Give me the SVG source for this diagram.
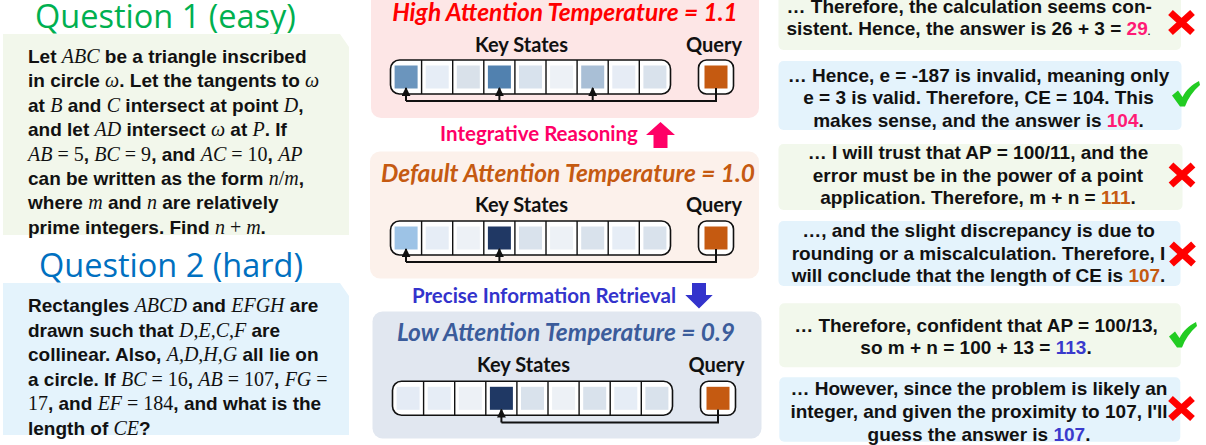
<svg xmlns="http://www.w3.org/2000/svg" width="1206" height="445" viewBox="0 0 1206 445">
  <style>
    .qtitle { font-family: "Open Sans", "Liberation Sans", sans-serif; font-size: 32.5px; }
    .body { font-family: "Liberation Sans", Arial, sans-serif; font-weight: bold; font-size: 19px; fill: #111; }
    .m { font-family: "Liberation Serif", "Times New Roman", serif; font-style: italic; font-weight: normal; font-size: 20px; }
    .r { font-family: "Liberation Serif", "Times New Roman", serif; font-style: normal; font-weight: normal; font-size: 20px; }
    .ptitle { font-family: Lato, "Open Sans", sans-serif; font-style: italic; font-weight: bold; font-size: 24.5px; text-anchor: middle; }
    .lbl { font-family: Lato, "Open Sans", sans-serif; font-weight: bold; font-size: 20px; fill: #111; text-anchor: middle; }
    .flow { font-family: Lato, "Open Sans", sans-serif; font-weight: bold; font-size: 20.5px; text-anchor: middle; }
    .row { fill: #fff; stroke: #111; stroke-width: 1.6; }
    .div { stroke: #111; stroke-width: 1.4; }
    .conn { fill: none; stroke: #111; stroke-width: 2; }
    .ans { font-family: "Liberation Sans", Arial, sans-serif; font-weight: bold; font-size: 19px; fill: #111; text-anchor: middle; }
    .green { fill: #f2f8ec; }
    .blue { fill: #e4f3fc; }
    .pink { fill: #ff1a75; }
    .orange { fill: #c55a11; }
    .violet { fill: #3a3acc; }
  </style>
  <defs>
    <marker id="tip" viewBox="0 0 10 10" refX="9" refY="5" markerWidth="4.5" markerHeight="4.5" orient="auto" markerUnits="strokeWidth">
      <path d="M0,0 L10,5 L0,10 Z" fill="#111"/>
    </marker>
    <g id="cross">
      <path d="M-11,-10 L11,10 M-11,10 L11,-10" stroke="#ff0000" stroke-width="7" fill="none"/>
    </g>
    <path id="check" d="M0,14 L6,9 L10.5,15.5 C14,8.5 20,3 27,-0.5 L28,3.5 C21,9.5 16,17 13,25 L8,25 Z" fill="#22cc22"/>
  </defs>

  <rect width="1206" height="445" fill="#ffffff"/>

  <!-- Question 1 -->
  <g id="question1">
    <text class="qtitle" x="35" y="28" fill="#00b050">Question 1 (easy)</text>
    <path d="M3,34 H340 L349,47 V235 H3 Z" fill="#f2f7eb"/>
    <text class="body" x="28" y="63">Let <tspan class="m">ABC</tspan> be a triangle inscribed</text>
    <text class="body" x="28" y="87.4">in circle <tspan class="m">ω</tspan>. Let the tangents to <tspan class="m">ω</tspan></text>
    <text class="body" x="28" y="111.8">at <tspan class="m">B</tspan> and <tspan class="m">C</tspan> intersect at point <tspan class="m">D</tspan>,</text>
    <text class="body" x="28" y="136.2">and let <tspan class="m">AD</tspan> intersect <tspan class="m">ω</tspan> at <tspan class="m">P</tspan>. If</text>
    <text class="body" x="28" y="160.6"><tspan class="m">AB</tspan><tspan class="r"> = 5</tspan>, <tspan class="m">BC</tspan><tspan class="r"> = 9</tspan>, and <tspan class="m">AC</tspan><tspan class="r"> = 10</tspan>, <tspan class="m">AP</tspan></text>
    <text class="body" x="28" y="185">can be written as the form <tspan class="m">n</tspan><tspan class="r">/</tspan><tspan class="m">m</tspan>,</text>
    <text class="body" x="28" y="209.4">where <tspan class="m">m</tspan> and <tspan class="m">n</tspan> are relatively</text>
    <text class="body" x="28" y="233.8">prime integers. Find <tspan class="m">n</tspan><tspan class="r"> + </tspan><tspan class="m">m</tspan>.</text>
  </g>

  <!-- Question 2 -->
  <g id="question2">
    <text class="qtitle" x="39" y="277" fill="#0070c0">Question 2 (hard)</text>
    <path d="M3,283 H340 L349,296 V435 H3 Z" fill="#e4f3fc"/>
    <text class="body" x="28" y="312">Rectangles <tspan class="m">ABCD</tspan> and <tspan class="m">EFGH</tspan> are</text>
    <text class="body" x="28" y="336.6">drawn such that <tspan class="m">D,E,C,F</tspan> are</text>
    <text class="body" x="28" y="361.2">collinear. Also, <tspan class="m">A,D,H,G</tspan> all lie on</text>
    <text class="body" x="28" y="385.8">a circle. If <tspan class="m">BC</tspan><tspan class="r"> = 16</tspan>, <tspan class="m">AB</tspan><tspan class="r"> = 107</tspan>, <tspan class="m">FG</tspan><tspan class="r"> =</tspan></text>
    <text class="body" x="28" y="410.4"><tspan class="r">17</tspan>, and <tspan class="m">EF</tspan><tspan class="r"> = 184</tspan>, and what is the</text>
    <text class="body" x="28" y="435">length of <tspan class="m">CE</tspan>?</text>
  </g>

  <!-- High temperature panel -->
  <g id="panel-high">
    <rect x="371" y="-10" width="388" height="128" rx="10" fill="#fde6e6"/>
    <text class="ptitle" x="565" y="20.5" fill="#ff0000">High Attention Temperature = 1.1</text>
    <text class="lbl" x="521.5" y="52">Key States</text>
    <text class="lbl" x="714" y="52">Query</text>
    <rect class="row" x="390.5" y="60" width="280" height="34" rx="9"/>
    <path class="div" d="M421.6,60V94 M452.7,60V94 M483.8,60V94 M514.9,60V94 M546,60V94 M577.1,60V94 M608.2,60V94 M639.3,60V94"/>
    <rect x="394.6" y="65.5" width="23" height="23" fill="#6b95bd"/>
    <rect x="425.7" y="65.5" width="23" height="23" fill="#e6edf6"/>
    <rect x="456.8" y="65.5" width="23" height="23" fill="#d9e1ea"/>
    <rect x="487.9" y="65.5" width="23" height="23" fill="#5181af"/>
    <rect x="519" y="65.5" width="23" height="23" fill="#d8e2ed"/>
    <rect x="550.1" y="65.5" width="23" height="23" fill="#edf1f6"/>
    <rect x="581.2" y="65.5" width="23" height="23" fill="#a9bfd6"/>
    <rect x="612.3" y="65.5" width="23" height="23" fill="#e6ecf5"/>
    <rect x="643.4" y="65.5" width="23" height="23" fill="#d9e2ec"/>
    <rect class="row" x="698.5" y="60" width="35" height="34" rx="8"/>
    <rect x="704.5" y="65.5" width="23" height="23" fill="#c55a11"/>
  </g>

  <!-- Default temperature panel -->
  <g id="panel-default">
    <rect x="370" y="151.5" width="389" height="127" rx="10" fill="#fcf1eb"/>
    <text class="ptitle" x="568" y="182" fill="#c55a11">Default Attention Temperature = 1.0</text>
    <text class="lbl" x="521.5" y="211.7">Key States</text>
    <text class="lbl" x="714" y="211.7">Query</text>
    <rect class="row" x="390.5" y="221" width="280" height="34" rx="9"/>
    <path class="div" d="M421.6,221V255 M452.7,221V255 M483.8,221V255 M514.9,221V255 M546,221V255 M577.1,221V255 M608.2,221V255 M639.3,221V255"/>
    <rect x="394.6" y="226.5" width="23" height="23" fill="#9dc3e6"/>
    <rect x="425.7" y="226.5" width="23" height="23" fill="#e6edf6"/>
    <rect x="456.8" y="226.5" width="23" height="23" fill="#edf1f6"/>
    <rect x="487.9" y="226.5" width="23" height="23" fill="#203864"/>
    <rect x="519" y="226.5" width="23" height="23" fill="#d9e2ec"/>
    <rect x="550.1" y="226.5" width="23" height="23" fill="#edf1f6"/>
    <rect x="581.2" y="226.5" width="23" height="23" fill="#d9e2ec"/>
    <rect x="612.3" y="226.5" width="23" height="23" fill="#e6edf6"/>
    <rect x="643.4" y="226.5" width="23" height="23" fill="#d9e2ec"/>
    <rect class="row" x="698.5" y="221" width="35" height="34" rx="8"/>
    <rect x="704.5" y="226.5" width="23" height="23" fill="#c55a11"/>
  </g>

  <!-- Low temperature panel -->
  <g id="panel-low">
    <rect x="372.5" y="311.5" width="389" height="127" rx="10" fill="#e1e7f0"/>
    <text class="ptitle" x="566" y="341" fill="#3b5c9b">Low Attention Temperature = 0.9</text>
    <text class="lbl" x="523.5" y="371.7">Key States</text>
    <text class="lbl" x="716.5" y="371.7">Query</text>
    <rect class="row" x="392.5" y="381.3" width="280" height="34" rx="9"/>
    <path class="div" d="M423.6,381.3V415.3 M454.7,381.3V415.3 M485.8,381.3V415.3 M516.9,381.3V415.3 M548,381.3V415.3 M579.1,381.3V415.3 M610.2,381.3V415.3 M641.3,381.3V415.3"/>
    <rect x="396.6" y="386.8" width="23" height="23" fill="#e4ebf5"/>
    <rect x="427.7" y="386.8" width="23" height="23" fill="#e6edf6"/>
    <rect x="458.8" y="386.8" width="23" height="23" fill="#edf1f6"/>
    <rect x="489.9" y="386.8" width="23" height="23" fill="#1f3864"/>
    <rect x="521" y="386.8" width="23" height="23" fill="#d9e2ec"/>
    <rect x="552.1" y="386.8" width="23" height="23" fill="#edf1f6"/>
    <rect x="583.2" y="386.8" width="23" height="23" fill="#d9e2ec"/>
    <rect x="614.3" y="386.8" width="23" height="23" fill="#e6edf6"/>
    <rect x="645.4" y="386.8" width="23" height="23" fill="#d9e2ec"/>
    <rect class="row" x="700.5" y="381.3" width="35" height="34" rx="8"/>
    <rect x="706.5" y="386.8" width="23" height="23" fill="#c55a11"/>
  </g>

  <!-- Transitions between panels -->
  <g id="integrative">
    <text class="flow" x="539" y="140.5" fill="#ff0066">Integrative Reasoning</text>
    <path d="M660.5,122 L675,135 H667.5 V148 H653.5 V135 H646 Z" fill="#ff0066"/>
  </g>
  <g id="retrieval">
    <text class="flow" x="544" y="303" fill="#3333cc">Precise Information Retrieval</text>
    <path d="M692,283 H706 V295 H712.7 L699,308.5 L685.3,295 H692 Z" fill="#3333cc"/>
  </g>

  <!-- Attention connectors: query to key states -->
  <g id="connectors">
    <path class="conn" d="M716,88 V101 H406"/>
    <path class="conn" d="M406,101 V88" marker-end="url(#tip)"/>
    <path class="conn" d="M499.4,101 V88" marker-end="url(#tip)"/>
    <path class="conn" d="M592.7,101 V88" marker-end="url(#tip)"/>

    <path class="conn" d="M716,249 V262 H406"/>
    <path class="conn" d="M406,262 V249" marker-end="url(#tip)"/>
    <path class="conn" d="M499.4,262 V249" marker-end="url(#tip)"/>

    <path class="conn" d="M718,409.5 V422.5 H501.4"/>
    <path class="conn" d="M501.4,422.5 V409.5" marker-end="url(#tip)"/>
  </g>

  <!-- Model answers -->
  <g id="answer1">
    <rect class="green" x="778.5" y="-8" width="402.5" height="58" rx="5"/>
    <text class="body" x="786.5" y="12.5">… Therefore, the calculation seems con-</text>
    <text class="body" x="786.5" y="35">sistent. Hence, the answer is 26 + 3 = <tspan class="pink">29</tspan><tspan font-size="9">.</tspan></text>
    <use href="#cross" x="1181.5" y="22.5"/>
  </g>
  <g id="answer2">
    <rect class="blue" x="778.5" y="61" width="403" height="69" rx="5"/>
    <text class="ans" x="978.5" y="81.5">… Hence, e = -187 is invalid, meaning only</text>
    <text class="ans" x="978.5" y="104">e = 3 is valid. Therefore, CE = 104. This</text>
    <text class="ans" x="978.5" y="126.5">makes sense, and the answer is <tspan class="pink">104</tspan>.</text>
    <use href="#check" x="1172" y="81.5"/>
  </g>
  <g id="answer3">
    <rect class="green" x="778.5" y="144" width="404" height="66" rx="5"/>
    <text class="ans" x="978" y="159">… I will trust that AP = 100/11, and the</text>
    <text class="ans" x="978" y="181.5">error must be in the power of a point</text>
    <text class="ans" x="978" y="204">application. Therefore, m + n = <tspan class="orange">111</tspan>.</text>
    <use href="#cross" x="1182" y="175"/>
  </g>
  <g id="answer4">
    <rect class="blue" x="778.5" y="221" width="402" height="65" rx="5"/>
    <text class="ans" x="978.5" y="236.7">…, and the slight discrepancy is due to</text>
    <text class="ans" x="978.5" y="259.5">rounding or a miscalculation. Therefore, I</text>
    <text class="ans" x="978.5" y="282">will conclude that the length of CE is <tspan class="orange">107</tspan>.</text>
    <use href="#cross" x="1182.5" y="254"/>
  </g>
  <g id="answer5">
    <rect class="green" x="779.3" y="303.3" width="401.5" height="64" rx="5"/>
    <text class="ans" x="976" y="331.7">… Therefore, confident that AP = 100/13,</text>
    <text class="ans" x="976" y="354.3">so m + n = 100 + 13 = <tspan class="violet">113</tspan>.</text>
    <use href="#check" x="1169" y="322.5"/>
  </g>
  <g id="answer6">
    <rect class="blue" x="779.3" y="377.3" width="401" height="64.4" rx="5"/>
    <text class="ans" x="979" y="395">… However, since the problem is likely an</text>
    <text class="ans" x="979" y="418">integer, and given the proximity to 107, I'll</text>
    <text class="ans" x="979" y="440.5">guess the answer is <tspan class="violet">107</tspan>.</text>
    <use href="#cross" x="1181.5" y="408.5"/>
  </g>
</svg>
